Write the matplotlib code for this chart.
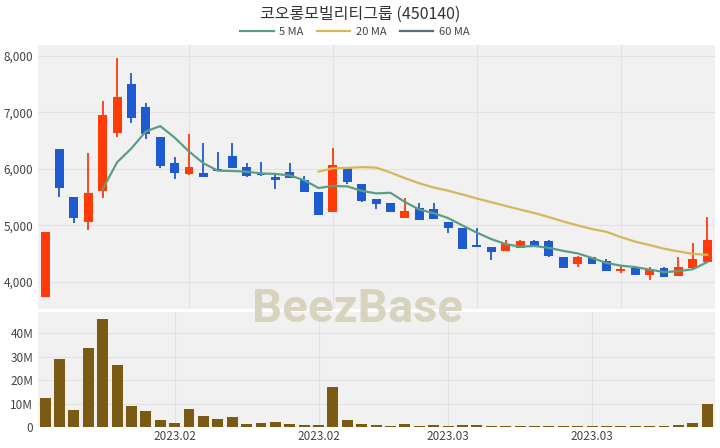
import numpy as np
import pandas as pd
import matplotlib
matplotlib.use('Agg')
import matplotlib.pyplot as plt
from matplotlib.ticker import FuncFormatter

plt.rcParams['font.family'] = ['Noto Sans CJK KR', 'DejaVu Sans']

# daily candles (price in KRW)
opens = [3735, 6340, 5500, 5060, 5610, 6640, 7500, 7090, 6555, 6105,
         5905, 5920, 5990, 6225, 6035, 5930, 5850, 5945, 5800, 5580,
         5240, 6025, 5730, 5465, 5385, 5120, 5310, 5280, 5060, 4945,
         4650, 4610, 4545, 4600, 4725, 4725, 4430, 4315, 4430, 4365,
         4185, 4235, 4110, 4250, 4100, 4237, 4355]
closes = [4885, 5650, 5120, 5575, 6950, 7265, 6890, 6615, 6050, 5930,
          6035, 5850, 5960, 6020, 5870, 5885, 5800, 5830, 5595, 5180,
          6065, 5760, 5435, 5375, 5230, 5255, 5090, 5110, 4945, 4575,
          4620, 4520, 4665, 4720, 4630, 4460, 4250, 4445, 4315, 4190,
          4220, 4120, 4230, 4090, 4265, 4400, 4740]
highs = [4885, 6343, 5504, 6272, 7198, 7954, 7699, 7158, 6555, 6202,
         6609, 6460, 6301, 6449, 6095, 6120, 5930, 6095, 5871, 5585,
         6360, 6030, 5735, 5470, 5390, 5476, 5390, 5390, 5065, 4950,
         4945, 4615, 4740, 4740, 4745, 4730, 4440, 4450, 4435, 4395,
         4280, 4265, 4260, 4255, 4445, 4690, 5150]
lows = [3735, 5504, 5034, 4915, 5476, 6566, 6814, 6526, 6018, 5812,
        5883, 5845, 5955, 6015, 5860, 5870, 5635, 5830, 5590, 5175,
        5230, 5730, 5405, 5285, 5225, 5120, 5090, 5105, 4855, 4570,
        4615, 4385, 4540, 4600, 4630, 4430, 4245, 4265, 4310, 4185,
        4150, 4115, 4030, 4085, 4095, 4230, 4350]
volumes = [12.6, 29.3, 7.2, 33.9, 46.2, 26.4, 8.9, 6.7, 3.2, 1.9,
           7.9, 4.6, 3.6, 4.3, 1.2, 1.7, 2.1, 1.4, 1.0, 1.0,
           17.1, 2.9, 1.2, 0.7, 0.5, 1.4, 0.6, 1.0, 0.5, 1.0,
           0.9, 0.5, 0.4, 0.4, 0.5, 0.6, 0.6, 0.5, 0.4, 0.4,
           0.4, 0.4, 0.5, 0.3, 0.7, 1.7, 10.0]  # millions

xtick_pos = [9, 19, 28, 38]
xtick_labels = ['2023.02', '2023.02', '2023.03', '2023.03']
price_grid_x = [10, 20, 30, 40]

title = '코오롱모빌리티그룹 (450140)'

UP = '#FF3B0A'
DOWN = '#1E5BD0'
VOL = '#7B5B14'
BG = '#F1F1F1'
GRID = '#E2E2E2'

df = pd.DataFrame({'o': opens, 'h': highs, 'l': lows, 'c': closes, 'v': volumes})
df['ma5'] = df['c'].rolling(5).mean()
df['ma20'] = df['c'].rolling(20).mean()
df['ma60'] = df['c'].rolling(60).mean()
x = np.arange(len(df))

fig = plt.figure(figsize=(7.2, 4.48), dpi=100)
ax = fig.add_axes([0.0528, 0.3103, 0.940, 0.5893])
axv = fig.add_axes([0.0528, 0.0469, 0.940, 0.2567])

for a in (ax, axv):
    a.set_facecolor(BG)
    for s in a.spines.values():
        s.set_visible(False)
    a.tick_params(length=0, labelsize=8.5, colors='#444444')
    a.set_xlim(-0.49, 46.53)
    a.set_axisbelow(True)

# price panel
up = df['c'] >= df['o']
colors = np.where(up, UP, DOWN)
ax.vlines(x, df['l'], df['h'], colors=colors, linewidth=1.3, zorder=2)
body_lo = np.minimum(df['o'], df['c'])
body_h = np.maximum(np.abs(df['c'] - df['o']), 12)
ax.bar(x, body_h, bottom=body_lo, width=0.62, color=colors, zorder=3)

ax.plot(x, df['ma5'], color='#5C9E84', lw=1.6, label='5 MA', zorder=4)
ax.plot(x, df['ma20'], color='#D4B85A', lw=1.6, label='20 MA', zorder=4)
ax.plot(x, df['ma60'], color='#5A6A80', lw=1.6, label='60 MA', zorder=4)

ax.set_ylim(3517, 8189)
ax.set_yticks([4000, 5000, 6000, 7000, 8000])
ax.yaxis.set_major_formatter(FuncFormatter(lambda v, p: f'{int(v):,}'))
ax.set_xticks(price_grid_x)
ax.set_xticklabels([])
ax.grid(True, color=GRID, lw=0.8)

# volume panel
axv.bar(x, df['v'], width=0.76, color=VOL, zorder=3)
axv.set_ylim(0, 49.2)
axv.set_yticks([0, 10, 20, 30, 40])
axv.set_yticklabels(['0', '10M', '20M', '30M', '40M'])
axv.set_xticks(xtick_pos)
axv.set_xticklabels(xtick_labels)
axv.tick_params(axis='x', pad=2)
axv.grid(True, color=GRID, lw=0.8)

fig.text(0.5, 0.968, title, ha='center', va='center', fontsize=11.5, color='#333333')
fig.legend(loc='center', bbox_to_anchor=(0.493, 0.928), ncol=3, frameon=False,
           fontsize=8, handlelength=3, columnspacing=1.2, handletextpad=0.5,
           labelcolor='#444444')

fig.text(0.497, 0.311, 'BeezBase', ha='center', va='center', fontsize=34,
         fontweight='bold', color='#D5D0B8', alpha=0.9, zorder=10,
         family=['Roboto', 'DejaVu Sans'])

fig.savefig('out.png', dpi=100, facecolor='white')
